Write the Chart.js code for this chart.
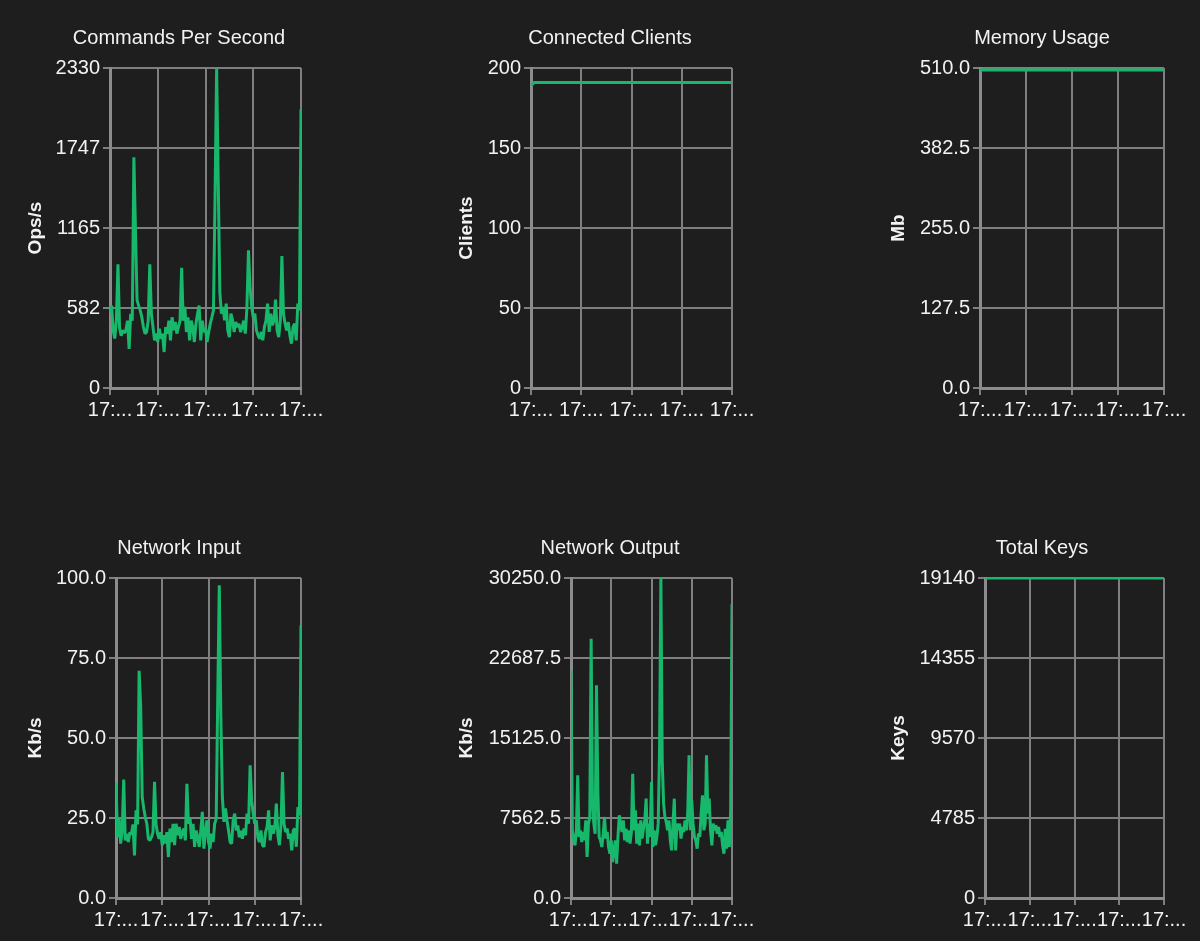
<!DOCTYPE html>
<html>
<head>
<meta charset="utf-8">
<title>Redis stats</title>
<script src="https://cdn.jsdelivr.net/npm/chart.js@4.4.1/dist/chart.umd.min.js"></script>
<style>
  html, body { margin: 0; padding: 0; background: #1e1e1e; }
  body { width: 1200px; height: 941px; position: relative; overflow: hidden; }
  canvas { position: absolute; }
</style>
</head>
<body>
<canvas id="ops" width="356" height="428" style="left:1px;top:0px"></canvas>
<canvas id="clients" width="356" height="428" style="left:432px;top:0px"></canvas>
<canvas id="memory" width="356" height="428" style="left:864px;top:0px"></canvas>
<canvas id="netIn" width="356" height="428" style="left:1px;top:510px"></canvas>
<canvas id="netOut" width="356" height="428" style="left:432px;top:510px"></canvas>
<canvas id="keys" width="356" height="428" style="left:864px;top:510px"></canvas>
<script>
// x axis: sample index, five truncated time labels
const xTickValues = [0, 30, 60, 90, 120];
const xTickLabels = ['17:...', '17:...', '17:...', '17:...', '17:...'];

// Commands Per Second (Ops/s)
const opsValues = [
  540, 600, 420, 360, 490, 900, 440, 380, 420, 400,
  420, 490, 285, 540, 490, 1680, 1150, 640, 600, 565,
  515, 444, 396, 408, 490, 900, 540, 444, 347, 396,
  335, 432, 360, 396, 262, 444, 396, 490, 347, 515,
  420, 480, 396, 444, 490, 876, 490, 590, 408, 515,
  347, 490, 444, 335, 468, 540, 600, 347, 490, 408,
  432, 335, 408, 468, 515, 565, 1400, 2330, 1500, 700,
  541, 590, 493, 614, 420, 371, 541, 493, 408, 480,
  444, 468, 408, 444, 490, 396, 578, 1002, 735, 590,
  515, 541, 420, 383, 360, 408, 347, 444, 490, 614,
  408, 541, 456, 490, 643, 420, 371, 490, 961, 541,
  468, 420, 480, 383, 323, 444, 468, 347, 614, 565,
  2029
];
const opsTickValues = [0, 582.5, 1165, 1747.5, 2330];
const opsTickLabels = ['0', '582', '1165', '1747', '2330'];

// Connected Clients
const clientValues = [
  189, 190, 191, 191, 191, 191, 191, 191, 191, 191,
  191, 191, 191, 191, 191, 191, 191, 191, 191, 191,
  191, 191, 191, 191, 191, 191, 191, 191, 191, 191,
  191, 191, 191, 191, 191, 191, 191, 191, 191, 191,
  191, 191, 191, 191, 191, 191, 191, 191, 191, 191,
  191, 191, 191, 191, 191, 191, 191, 191, 191, 191,
  191, 191, 191, 191, 191, 191, 191, 191, 191, 191,
  191, 191, 191, 191, 191, 191, 191, 191, 191, 191,
  191, 191, 191, 191, 191, 191, 191, 191, 191, 191,
  191, 191, 191, 191, 191, 191, 191, 191, 191, 191,
  191, 191, 191, 191, 191, 191, 191, 191, 191, 191,
  191, 191, 191, 191, 191, 191, 191, 191, 191, 191,
  191
];
const clientTickValues = [0, 50, 100, 150, 200];
const clientTickLabels = ['0', '50', '100', '150', '200'];

// Memory Usage (Mb)
const memoryValues = [
  507, 507, 507, 507, 507, 507, 507, 507, 507, 507,
  507, 507, 507, 507, 507, 507, 507, 507, 507, 507,
  507, 507, 507, 507, 507, 507, 507, 507, 507, 507,
  507, 507, 507, 507, 507, 507, 507, 507, 507, 507,
  507, 507, 507, 507, 507, 507, 507, 507, 507, 507,
  507, 507, 507, 507, 507, 507, 507, 507, 507, 507,
  507, 507, 507, 507, 507, 507, 507, 507, 507, 507,
  507, 507, 507, 507, 507, 507, 507, 507, 507, 507,
  507, 507, 507, 507, 507, 507, 507, 507, 507, 507,
  507, 507, 507, 507, 507, 507, 507, 507, 507, 507,
  507, 507, 507, 507, 507, 507, 507, 507, 507, 507,
  507, 507, 507, 507, 507, 507, 507, 507, 507, 507,
  507
];
const memoryTickValues = [0, 127.5, 255, 382.5, 510];
const memoryTickLabels = ['0.0', '127.5', '255.0', '382.5', '510.0'];

// Network Input (Kb/s)
const netInValues = [
  36, 19, 25, 17, 21, 37, 18, 20, 17.5, 20.5,
  20, 23, 13.3, 27.4, 23, 71, 60, 31.5, 28, 25.3,
  23.2, 18.5, 18, 19, 20.6, 36.3, 23, 20, 18.5, 20.6,
  16.5, 19.6, 17, 20.6, 12.8, 21.7, 17.5, 23.2, 16.5, 23.2,
  19.6, 22.2, 18.5, 20.6, 21.7, 18, 35.7, 23.2, 25.3, 18.5,
  23.2, 16, 21.1, 19, 16, 21, 26.9, 15.4, 20.6, 24.3,
  17.5, 15.4, 20.1, 17.5, 23.2, 24.8, 62.8, 97.7, 56.6, 31.5,
  23.8, 28, 24.3, 21.1, 17.5, 17, 24.3, 26.4, 21.1, 22.7,
  19, 21, 18.5, 21.7, 19.6, 26.4, 23.2, 41.5, 30.5, 26.4,
  23.2, 24.3, 19, 17.5, 21.1, 16.5, 16, 20.6, 22.2, 27.4,
  18, 22.7, 20.1, 22.2, 29.5, 19.6, 16.5, 22.7, 39.4, 23.2,
  20.6, 21.7, 18.5, 20.1, 14.9, 21.1, 21.7, 16, 28.4, 25.8,
  85.2
];
const netInTickValues = [0, 25, 50, 75, 100];
const netInTickLabels = ['0.0', '25.0', '50.0', '75.0', '100.0'];

// Network Output (Kb/s)
const netOutValues = [
  21520, 6400, 5450, 4980, 6400, 11600, 5770, 6400, 5290, 6240,
  5450, 7340, 3876, 7030, 7660, 24515, 9000, 7030, 6080, 20100,
  10180, 5770, 5450, 4820, 6080, 7660, 5610, 6240, 4820, 4190,
  5450, 3400, 4500, 5450, 3245, 5770, 7815, 7030, 6240, 7340,
  5450, 6550, 5290, 6400, 5136, 6240, 11750, 6400, 8290, 5136,
  7030, 4980, 7340, 5610, 6550, 7340, 9390, 5136, 7030, 5770,
  10965, 4820, 6400, 4980, 5770, 7030, 14000, 30250, 13000, 8920,
  7660, 7185, 6400, 7340, 5450, 4500, 7030, 9390, 4500, 7030,
  6400, 7030, 5610, 6710, 6240, 7340, 6400, 7970, 13490, 6400,
  9230, 7030, 5770, 5450, 4660, 6080, 5770, 7970, 9700, 6400,
  7030, 13490, 7970, 9390, 6400, 4980, 7030, 6400, 6870, 6080,
  6710, 5770, 6240, 4980, 4190, 6550, 4660, 7340, 4820, 8290,
  27760
];
const netOutTickValues = [0, 7562.5, 15125, 22687.5, 30250];
const netOutTickLabels = ['0.0', '7562.5', '15125.0', '22687.5', '30250.0'];

// Total Keys
const keyValues = [
  19140, 19140, 19140, 19140, 19140, 19140, 19140, 19140, 19140, 19140,
  19140, 19140, 19140, 19140, 19140, 19140, 19140, 19140, 19140, 19140,
  19140, 19140, 19140, 19140, 19140, 19140, 19140, 19140, 19140, 19140,
  19140, 19140, 19140, 19140, 19140, 19140, 19140, 19140, 19140, 19140,
  19140, 19140, 19140, 19140, 19140, 19140, 19140, 19140, 19140, 19140,
  19140, 19140, 19140, 19140, 19140, 19140, 19140, 19140, 19140, 19140,
  19140, 19140, 19140, 19140, 19140, 19140, 19140, 19140, 19140, 19140,
  19140, 19140, 19140, 19140, 19140, 19140, 19140, 19140, 19140, 19140,
  19140, 19140, 19140, 19140, 19140, 19140, 19140, 19140, 19140, 19140,
  19140, 19140, 19140, 19140, 19140, 19140, 19140, 19140, 19140, 19140,
  19140, 19140, 19140, 19140, 19140, 19140, 19140, 19140, 19140, 19140,
  19140, 19140, 19140, 19140, 19140, 19140, 19140, 19140, 19140, 19140,
  19140
];
const keyTickValues = [0, 4785, 9570, 14355, 19140];
const keyTickLabels = ['0', '4785', '9570', '14355', '19140'];

const GREEN = '#17b86c';
const TEXT = '#f2f2f2';
const GRID = '#7f7f81';
const AXIS = '#8c8c8e';

Chart.defaults.font.family = "'Liberation Sans', Arial, Helvetica, sans-serif";
Chart.defaults.color = TEXT;

function lineChart(id, title, unit, values, tickValues, tickLabels, axisWidth) {
  const points = values.map((v, i) => ({ x: i, y: v }));
  return new Chart(document.getElementById(id), {
    type: 'line',
    data: {
      datasets: [{
        data: points,
        borderColor: GREEN,
        borderWidth: 3,
        borderJoinStyle: 'bevel',
        pointRadius: 0,
        tension: 0,
        fill: false
      }]
    },
    options: {
      responsive: false,
      animation: false,
      devicePixelRatio: 1,
      layout: { padding: 0 },
      plugins: {
        legend: { display: false },
        tooltip: { enabled: false },
        title: {
          display: true,
          text: title,
          color: TEXT,
          font: { size: 20, weight: 'normal' },
          padding: { top: 26, bottom: 18 }
        }
      },
      scales: {
        x: {
          type: 'linear',
          min: 0,
          max: values.length - 1,
          afterBuildTicks: s => { s.ticks = xTickValues.map(v => ({ value: v })); },
          afterFit: s => { s.height = 40; },
          ticks: {
            color: TEXT,
            font: { size: 20 },
            padding: 3,
            autoSkip: false,
            maxRotation: 0,
            minRotation: 0,
            callback: (v, i) => xTickLabels[i]
          },
          grid: { color: GRID, lineWidth: 2, tickLength: 7 },
          border: { color: AXIS, width: 3 }
        },
        y: {
          min: 0,
          max: tickValues[tickValues.length - 1],
          afterBuildTicks: s => { s.ticks = tickValues.map(v => ({ value: v })); },
          afterFit: s => { s.width = axisWidth; },
          ticks: {
            color: TEXT,
            font: { size: 20 },
            padding: 3,
            callback: (v, i) => tickLabels[i]
          },
          title: {
            display: true,
            text: unit,
            color: TEXT,
            font: { size: 19, weight: 'bold' },
            padding: { top: 23, bottom: 0 }
          },
          grid: { color: GRID, lineWidth: 2, tickLength: 7 },
          border: { color: AXIS, width: 3 }
        },
        // empty right-hand margin so the title stays centred on the whole canvas
        margin: {
          position: 'right',
          afterFit: s => { s.width = 56; },
          ticks: { display: false },
          grid: { display: false },
          border: { display: false }
        }
      }
    }
  });
}

lineChart('ops', 'Commands Per Second', 'Ops/s', opsValues, opsTickValues, opsTickLabels, 109);
lineChart('clients', 'Connected Clients', 'Clients', clientValues, clientTickValues, clientTickLabels, 99);
lineChart('memory', 'Memory Usage', 'Mb', memoryValues, memoryTickValues, memoryTickLabels, 116);
lineChart('netIn', 'Network Input', 'Kb/s', netInValues, netInTickValues, netInTickLabels, 115);
lineChart('netOut', 'Network Output', 'Kb/s', netOutValues, netOutTickValues, netOutTickLabels, 139);
lineChart('keys', 'Total Keys', 'Keys', keyValues, keyTickValues, keyTickLabels, 121);
</script>
</body>
</html>
